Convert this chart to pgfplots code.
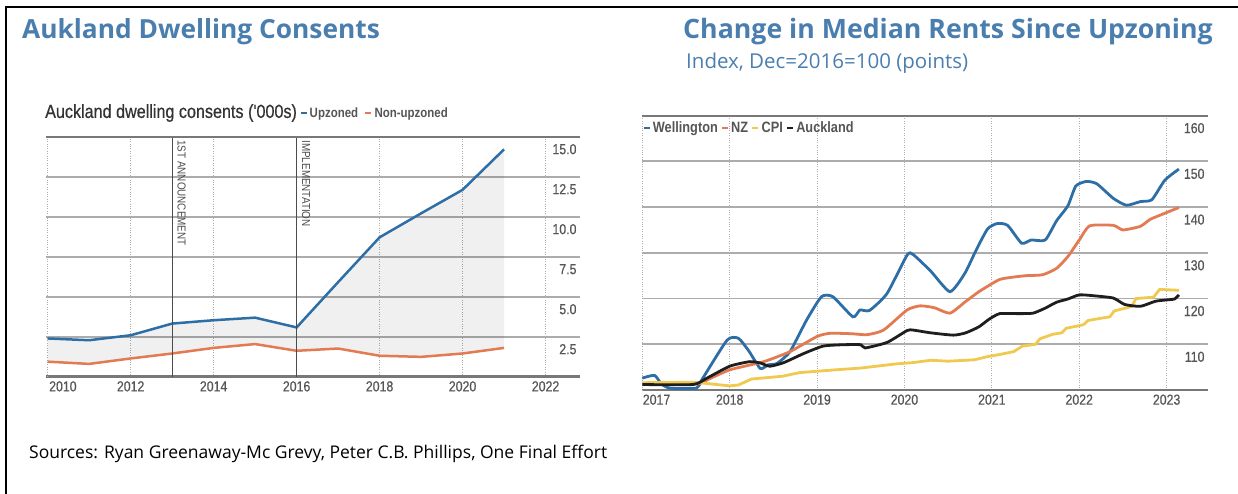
\documentclass[border=0pt]{standalone}
\usepackage{pgfplots}
\pgfplotsset{compat=1.18}
\usepackage{fontspec}
\setmainfont{Open Sans}
\newfontfamily\cond[FakeStretch=0.85]{Liberation Sans}
\newfontfamily\condm[FakeStretch=0.85, FakeBold=0.5]{Liberation Sans}
\definecolor{ttl}{RGB}{74,126,174}
\definecolor{upz}{RGB}{46,110,166}
\definecolor{nonup}{RGB}{226,122,82}
\definecolor{cpi}{RGB}{240,201,80}
\definecolor{akl}{RGB}{30,30,30}
\definecolor{tickc}{RGB}{85,85,85}
\definecolor{gridc}{RGB}{172,172,172}
\definecolor{axc}{RGB}{120,120,120}
\pgfplotsset{/pgf/number format/assume math mode=true}
\pgfplotsset{
  common/.style={
    scale only axis, anchor=south west,
    axis x line*=bottom, axis y line*=right,
    y axis line style={draw=none},
    x axis line style={draw=axc, line width=2.6pt},
    major tick length=0pt,
    xmajorgrids, ymajorgrids,
    x grid style={gridc, dotted, line width=0.9pt},
    y grid style={gridc, line width=1.9pt},
    x tick label style={font=\condm\fontsize{14.5}{16}\selectfont, text=tickc, /pgf/number format/1000 sep={}, yshift=-1pt},
    yticklabel pos=right,
    y tick label style={font=\condm\fontsize{14.5}{16}\selectfont, text=tickc, anchor=east, yshift=-12.5pt},
    clip=false,
    legend style={draw=none, fill=none, inner sep=0pt, legend columns=-1,
      /tikz/every even column/.append style={column sep=4pt}},
    legend image code/.code={\draw[#1, line width=2.4pt] (0pt,0pt) -- (6pt,0pt);},
  }
}
\begin{document}
\begin{tikzpicture}
\path[use as bounding box] (0pt,0pt) rectangle (1238pt,493pt);
\draw[line width=2.2pt] (6pt,-2pt) -- (6pt,486pt) -- (1240pt,486pt);
\node[anchor=base west, inner sep=0pt, text=ttl, font=\fontsize{26.3}{30}\selectfont\bfseries] at (22pt,454.7pt) {Aukland Dwelling Consents};
\node[anchor=base west, inner sep=0pt, text=ttl, font=\fontsize{26.7}{30}\selectfont\bfseries] at (683pt,454.5pt) {Change in Median Rents Since Upzoning};
\node[anchor=base west, inner sep=0pt, text=ttl, font=\fontsize{20.5}{24}\selectfont] at (686pt,424pt) {Index, Dec=2016=100 (points)};
\node[anchor=base west, inner sep=0pt, text=black, font=\fontsize{17.5}{20}\selectfont] at (29pt,35pt) {Sources: Ryan Greenaway-Mc Grevy, Peter C.B. Phillips, One Final Effort};
\node[anchor=west, inner sep=0pt, text=black!80, font=\condm\fontsize{19}{21}\selectfont] at (45pt,380pt) {Auckland dwelling consents ('000s)};

% ---------- Left chart ----------
\begin{axis}[common,
  at={(46pt,116.3pt)}, width=534pt, height=240pt,
  xmin=2009.96, xmax=2022.83, ymin=0, ymax=15,
  xtick={2012,2014,...,2022},
  extra x ticks={2010},
  extra x tick style={grid=major, x tick label style={anchor=north west, xshift=-2pt}},
  ytick={2.5,5,7.5,10,12.5,15},
  y tick label style={/pgf/number format/.cd, fixed, fixed zerofill, precision=1},
  legend style={at={(rel axis cs:0.474,1.099)}, anchor=west,
    font=\cond\bfseries\fontsize{13.5}{15}\selectfont, text=tickc},
]
\addplot[fill=black, fill opacity=0.06, draw=none, forget plot] coordinates {
 (2010,2.39)(2011,2.28)(2012,2.59)(2013,3.32)(2014,3.53)(2015,3.69)(2016,3.08)(2017,5.91)(2018,8.71)(2019,10.21)(2020,11.68)(2021,14.21)
 (2021,1.80)(2020,1.45)(2019,1.24)(2018,1.31)(2017,1.76)(2016,1.62)(2015,2.04)(2014,1.80)(2013,1.45)(2012,1.14)(2011,0.80)(2010,0.94)} -- cycle;
\addplot[color=upz, line width=2.5pt] coordinates {
 (2010,2.39)(2011,2.28)(2012,2.59)(2013,3.32)(2014,3.53)(2015,3.69)(2016,3.08)(2017,5.91)(2018,8.71)(2019,10.21)(2020,11.68)(2021,14.21)};
\addlegendentry{Upzoned}
\addplot[color=nonup, line width=2.5pt] coordinates {
 (2010,0.94)(2011,0.80)(2012,1.14)(2013,1.45)(2014,1.80)(2015,2.04)(2016,1.62)(2017,1.76)(2018,1.31)(2019,1.24)(2020,1.45)(2021,1.80)};
\addlegendentry{Non-upzoned}
\addplot[color=black!70, line width=1.2pt, forget plot] coordinates {(2013,0)(2013,15)};
\addplot[color=black!70, line width=1.2pt, forget plot] coordinates {(2016,0)(2016,15)};
\draw[color=axc, line width=2.2pt] (rel axis cs:0,1) -- (rel axis cs:1,1);
\node[rotate=-90, anchor=base west, inner sep=0pt, text=black!70, font=\cond\fontsize{11.6}{13}\selectfont] at (axis cs:2013.13,14.78) {1ST ANNOUNCEMENT};
\node[rotate=-90, anchor=base west, inner sep=0pt, text=black!70, font=\cond\fontsize{11.6}{13}\selectfont] at (axis cs:2016.13,14.78) {IMPLEMENTATION};
\end{axis}

% ---------- Right chart ----------
\begin{axis}[common,
  at={(642.3pt,103pt)}, width=565.7pt, height=274.4pt,
  xmin=2017, xmax=2023.473, ymin=100, ymax=160,
  xtick={2018,...,2023},
  extra x ticks={2017},
  extra x tick style={grid=major, x tick label style={anchor=north west, xshift=-3pt}},
  ytick={110,120,...,160},
  legend style={at={(rel axis cs:0,0.955)}, anchor=west,
    font=\cond\bfseries\fontsize{15}{17}\selectfont, text=tickc,
    /tikz/every even column/.append style={column sep=1pt}},
]
\addplot[color=upz, line width=2.8pt, smooth, tension=0.35] coordinates {
 (2017.0,102.6)(2017.14,103.2)(2017.22,101.3)(2017.32,100.4)(2017.62,100.4)(2017.68,102.2)(2017.97,110.9)(2018.1,111.3)(2018.22,108.5)(2018.35,104.7)(2018.44,105.5)(2018.54,105.8)(2018.69,108.4)(2018.88,115.3)(2019.05,120.4)(2019.18,120.4)(2019.41,116.0)(2019.49,117.5)(2019.6,117.4)(2019.8,121.1)(2020.03,129.5)(2020.1,129.6)(2020.3,126.0)(2020.52,121.5)(2020.69,125.5)(2020.82,130.6)(2020.95,135.2)(2021.06,136.4)(2021.18,136.0)(2021.34,132.1)(2021.45,132.8)(2021.61,132.8)(2021.74,137.0)(2021.87,140.3)(2021.96,144.6)(2022.08,145.6)(2022.2,145.1)(2022.39,141.9)(2022.54,140.4)(2022.7,141.2)(2022.83,141.6)(2022.98,145.9)(2023.14,148.3)};
\addlegendentry{Wellington}
\addplot[color=nonup, line width=2.8pt, smooth, tension=0.35] coordinates {
 (2017.0,101.2)(2017.62,101.3)(2017.74,102.2)(2018.0,104.4)(2018.39,106.2)(2018.69,108.4)(2019.0,111.7)(2019.15,112.4)(2019.4,112.3)(2019.57,112.1)(2019.76,113.1)(2020.03,117.5)(2020.18,118.4)(2020.34,118.0)(2020.52,116.8)(2020.69,119.2)(2020.86,121.6)(2021.08,124.1)(2021.21,124.6)(2021.39,125.0)(2021.58,125.2)(2021.74,126.6)(2021.87,129.2)(2022.0,132.8)(2022.12,135.9)(2022.39,136.0)(2022.5,135.0)(2022.7,135.8)(2022.81,137.3)(2022.96,138.5)(2023.14,139.9)};
\addlegendentry{NZ}
\addplot[color=cpi, line width=2.8pt] coordinates {
 (2017.0,101.6)(2017.6,101.7)(2017.8,101.3)(2018.0,100.9)(2018.1,101.1)(2018.25,102.4)(2018.6,103.0)(2018.8,103.8)(2019.2,104.4)(2019.5,104.8)(2019.9,105.7)(2020.1,106.0)(2020.3,106.5)(2020.5,106.3)(2020.8,106.6)(2020.95,107.3)(2021.1,107.8)(2021.25,108.4)(2021.35,109.6)(2021.5,110.0)(2021.55,111.2)(2021.7,112.2)(2021.8,112.5)(2021.85,113.5)(2021.98,114.0)(2022.05,114.3)(2022.1,115.2)(2022.25,115.7)(2022.35,116.0)(2022.4,117.3)(2022.55,118.0)(2022.6,118.3)(2022.65,120.0)(2022.85,120.3)(2022.92,122.0)(2023.14,121.8)};
\addlegendentry{CPI}
\addplot[color=akl, line width=2.8pt, smooth, tension=0.35] coordinates {
 (2017.0,101.2)(2017.58,101.2)(2017.74,102.6)(2018.0,105.2)(2018.23,106.2)(2018.35,105.9)(2018.46,105.2)(2018.62,106.0)(2018.85,108.0)(2019.07,109.6)(2019.3,109.9)(2019.5,109.9)(2019.55,109.2)(2019.8,110.4)(2020.03,113.0)(2020.1,113.1)(2020.3,112.5)(2020.56,112.0)(2020.7,112.5)(2020.85,113.8)(2020.97,115.5)(2021.09,116.7)(2021.3,116.7)(2021.47,116.8)(2021.61,117.9)(2021.74,119.2)(2021.87,119.9)(2022.0,120.8)(2022.17,120.6)(2022.39,120.1)(2022.52,118.7)(2022.7,118.3)(2022.87,119.4)(2023.0,119.7)(2023.09,119.9)(2023.14,120.8)};
\addlegendentry{Auckland}
\draw[color=axc, line width=2.2pt] (rel axis cs:0,1) -- (rel axis cs:1,1);
\end{axis}
\end{tikzpicture}
\end{document}
